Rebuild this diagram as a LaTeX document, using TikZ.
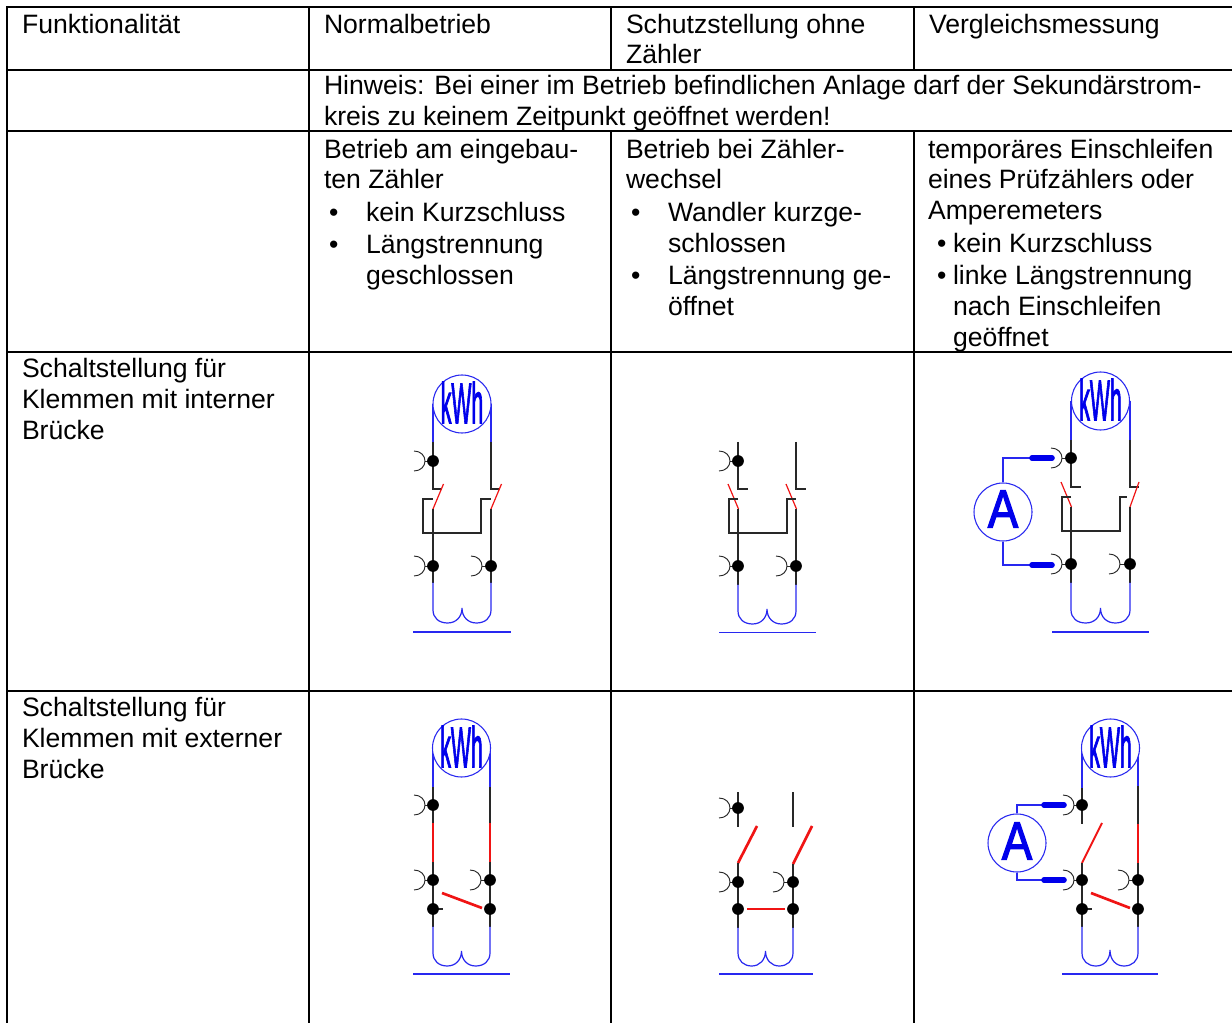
\documentclass[tikz,border=0pt]{standalone}
\usepackage{fontspec}
\setmainfont{Liberation Sans}
\newfontfamily\kwhfont[FakeBold=2.5]{Liberation Sans}
\definecolor{wblue}{RGB}{40,40,240}
\definecolor{tblue}{RGB}{0,0,235}
\definecolor{wred}{RGB}{240,20,20}
\definecolor{wblack}{RGB}{40,40,40}
\tikzset{
  x=0.75pt,y=-0.75pt,
  txt/.style={anchor=base west,inner sep=0pt,outer sep=0pt,yshift=-0.7pt,font=\fontsize{19.95}{24}\selectfont,text=black},
  grid/.style={line width=1.6pt,black},
  bw/.style={line width=0.9pt,wblue},
  kw/.style={line width=0.9pt,wblack},
  bwt/.style={line width=1.1pt,wblue},
  kwt/.style={line width=1.1pt,wblack},
  rw/.style={line width=0.9pt,wred},
  rwt/.style={line width=2pt,wred},
  dotmark/.style={circle,fill=black,draw=none,minimum size=8.8pt,inner sep=0pt},
  meterc/.style={circle,draw=wblue,line width=0.8pt,minimum size=43.5pt,inner sep=0pt,fill=white},
  lbl/.style={inner sep=0pt,text=tblue},
  plug/.style={line width=4.2pt,tblue,line cap=round}
}
% #1 x of hook tip (rightmost), #2 y, #3 x of the dot
\newcommand{\hookat}[3]{%
  \draw[kw,line width=0.7pt] (#1-11,#2-10) .. controls (#1-4,#2-10) and (#1,#2-5) .. (#1,#2)
     .. controls (#1,#2+5) and (#1-4,#2+10) .. (#1-11,#2+10);
  \draw[kw,line width=0.7pt] (#1,#2) -- (#3,#2);
  \node[dotmark] at (#3,#2) {};
}
% coil: #1 left x, #2 right x, #3 straight end y, #4 cusp y, #5 bottom y
\newcommand{\coilat}[5]{%
  \pgfmathsetmacro{\cm}{(#1+#2)/2}
  \draw[bw,line cap=round] (#1,#3) -- (#1,#5-13)
    .. controls (#1,#5-5) and (#1+6,#5) .. (#1/2+\cm/2,#5)
    .. controls (\cm-6,#5) and (\cm,#5-6) .. (\cm,#4)
    .. controls (\cm,#5-6) and (\cm+6,#5) .. (#2/2+\cm/2,#5)
    .. controls (#2-6,#5) and (#2,#5-5) .. (#2,#5-13) -- (#2,#3);
}
\newcommand{\kwh}[3]{% x y name
  \node[meterc] (#3) at (#1,#2) {};
  \node[lbl] (#3t) at (#1,#2-1.5) {\scalebox{0.37}[1]{\kwhfont\fontsize{43}{43}\selectfont kWh}};
}
\newcommand{\ampere}[4]{% x y name label-shift
  \node[meterc] (#3) at (#1,#2) {};
  \node[lbl] (#3t) at (#1,#2-#4) {\scalebox{0.85}[1]{\kwhfont\fontsize{40}{40}\selectfont A}};
}
\begin{document}
\begin{tikzpicture}
\useasboundingbox (0,0) rectangle (1232,1023);
\fill[white] (0,0) rectangle (1232,1023);
% grid
\draw[grid] (7,1023) -- (7,7) -- (1232,7);
\draw[grid] (7,70) -- (1232,70);
\draw[grid] (7,131) -- (1232,131);
\draw[grid] (7,352) -- (1232,352);
\draw[grid] (7,691) -- (1232,691);
\draw[grid] (309,7) -- (309,1023);
\draw[grid] (611,7) -- (611,70);
\draw[grid] (914,7) -- (914,70);
\draw[grid] (611,131) -- (611,1023);
\draw[grid] (914,131) -- (914,1023);
% texts
\node[txt] (t1) at (22,33) {Funktionalität};
\node[txt] (t2) at (324,33) {Normalbetrieb};
\node[txt] (t3) at (626,33) {Schutzstellung ohne};
\node[txt] (t3b) at (626,63) {Zähler};
\node[txt] (t4) at (929,33) {Vergleichsmessung};
\node[txt] (h1) at (324,94) {Hinweis: Bei einer im Betrieb befindlichen Anlage darf der Sekundärstrom-};
\node[txt] (h2) at (324,125) {kreis zu keinem Zeitpunkt geöffnet werden!};
\node[txt] (a1) at (324,158) {Betrieb am eingebau-};
\node[txt] (a2) at (324,188) {ten Zähler};
\node[txt] (a3) at (329,221) {•};
\node[txt] (a4) at (366,221) {kein Kurzschluss};
\node[txt] (a5) at (329,253) {•};
\node[txt] (a6) at (366,253) {Längstrennung};
\node[txt] (a7) at (366,284) {geschlossen};
\node[txt] (b1) at (626,158) {Betrieb bei Zähler-};
\node[txt] (b2) at (626,188) {wechsel};
\node[txt] (b3) at (631,221) {•};
\node[txt] (b4) at (668,221) {Wandler kurzge-};
\node[txt] (b5) at (668,252) {schlossen};
\node[txt] (b6) at (631,284) {•};
\node[txt] (b7) at (668,284) {Längstrennung ge-};
\node[txt] (b8) at (668,315) {öffnet};
\node[txt] (c1) at (928,158) {temporäres Einschleifen};
\node[txt] (c2) at (928,188) {eines Prüfzählers oder};
\node[txt] (c3) at (928,219) {Amperemeters};
\node[txt] (c4) at (937,252) {•};
\node[txt] (c5) at (953,252) {kein Kurzschluss};
\node[txt] (c6) at (937,284) {•};
\node[txt] (c7) at (953,284) {linke Längstrennung};
\node[txt] (c8) at (953,315) {nach Einschleifen};
\node[txt] (c9) at (953,346) {geöffnet};
\node[txt] (r1) at (22,377) {Schaltstellung für};
\node[txt] (r2) at (22,408) {Klemmen mit interner};
\node[txt] (r3) at (22,439) {Brücke};
\node[txt] (s1) at (22,716) {Schaltstellung für};
\node[txt] (s2) at (22,747) {Klemmen mit externer};
\node[txt] (s3) at (22,778) {Brücke};

% ---------- diagram row 1 col 2
\draw[bw] (433,442) -- (433,404) (491,442) -- (491,404);
\kwh{462}{404}{m1}
\draw[kw] (433,442) -- (433,489) -- (442,489);
\draw[kw] (491,442) -- (491,489) -- (500,489);
\draw[rw] (433,509) -- (443.5,484);
\draw[rw] (491,509) -- (501.5,484);
\draw[kw] (433,499) -- (423,499) -- (423,533) -- (481,533) -- (481,499) -- (491,499);
\draw[kw] (433,509) -- (433,583);
\draw[kw] (491,509) -- (491,583);
\hookat{425}{461}{433}
\hookat{425}{566}{433}
\hookat{482}{566}{491}
\coilat{433}{491}{583}{608}{623}
\draw[bw] (413,632) -- (511,632);

% ---------- diagram row 1 col 3
\draw[kw] (738,442) -- (738,489) -- (748,489);
\draw[kw] (796,442) -- (796,489) -- (806,489);
\draw[rw] (728,484) -- (738.5,509);
\draw[rw] (786,484) -- (796.5,509);
\draw[kw] (738,499) -- (729,499) -- (729,533) -- (787,533) -- (787,499) -- (796,499);
\draw[kw] (738,509) -- (738,585);
\draw[kw] (796,509) -- (796,585);
\hookat{730}{461}{738}
\hookat{730}{566}{738}
\hookat{787}{566}{796}
\coilat{738}{796}{585}{609}{624}
\draw[bwt] (719,632.5) -- (816,632.5);

% ---------- diagram row 1 col 4
\draw[bw] (1071,440) -- (1071,401) (1130,440) -- (1130,401);
\kwh{1100.5}{401}{m3}
\draw[kw] (1071,440) -- (1071,487) -- (1081,487);
\draw[kw] (1130,440) -- (1130,487) -- (1139,487);
\draw[rw] (1061,482) -- (1071.5,507);
\draw[rw] (1130,507) -- (1139,482);
\draw[kw] (1071,497) -- (1062,497) -- (1062,531) -- (1120,531) -- (1120,497) -- (1127,497);
\draw[kw] (1071,507) -- (1071,583);
\draw[kw] (1130,507) -- (1130,583);
\hookat{1062}{458}{1071}
\hookat{1062}{564}{1071}
\hookat{1120}{564}{1130}
\coilat{1071}{1130}{583}{608}{623}
\draw[bw] (1052,632) -- (1149,632);
\ampere{1003}{512}{a3m}{3}
\coordinate (p1) at (1032,458);
\coordinate (p1e) at (1052,458);
\coordinate (p2) at (1032,565);
\coordinate (p2e) at (1052,565);
\draw[bw] (a3m.north) |- (p1);
\draw[bw] (a3m.south) |- (p2);
\draw[plug] (p1) -- (p1e);
\draw[plug] (p2) -- (p2e);

% ---------- diagram row 2 col 2
\draw[bwt] (433,787) -- (433,748) (490,787) -- (490,748);
\kwh{461.5}{748}{m4}
\draw[kwt] (433,787) -- (433,823);
\draw[kwt] (490,787) -- (490,823);
\draw[rwt] (433,823) -- (433,862);
\draw[rwt] (490,823) -- (490,862);
\draw[kwt] (433,862) -- (433,927) (490,862) -- (490,927);
\draw[kw] (433,909) -- (443,909);
\hookat{425}{805}{433}
\hookat{425}{880}{433}
\hookat{481}{880}{490}
\node[dotmark] at (433,909) {};
\node[dotmark] at (490,909) {};
\draw[rwt] (442,893) -- (482,908);
\coilat{433}{490}{927}{951}{966}
\draw[bwt] (413,974) -- (510,974);

% ---------- diagram row 2 col 3
\draw[kwt] (738,792) -- (738,827);
\draw[kw] (793,792) -- (793,827);
\draw[rwt] (738,863) -- (757,826);
\draw[rwt] (793,864) -- (812,826);
\draw[kwt] (738,863) -- (738,928) (793,864) -- (793,928);
\hookat{730}{808}{738}
\hookat{730}{882}{738}
\hookat{784}{882}{793}
\node[dotmark] at (738,909) {};
\node[dotmark] at (793,909) {};
\draw[rwt] (747,909) -- (785,909);
\coilat{738}{793}{928}{951}{966}
\draw[bwt] (719,974) -- (813,974);

% ---------- diagram row 2 col 4
\draw[bw] (1082,788) -- (1082,748) (1138,786) -- (1138,748);
\kwh{1110.5}{748}{m6}
\draw[kw] (1082,788) -- (1082,824);
\draw[kw] (1138,786) -- (1138,824);
\draw[rwt] (1138,824) -- (1138,863);
\draw[rw,line width=1.4pt] (1082,863) -- (1102,823);
\draw[kw] (1082,863) -- (1082,927) (1138,863) -- (1138,927);
\draw[kw] (1082,909) -- (1092,909);
\hookat{1074}{805}{1082}
\hookat{1074}{880}{1082}
\hookat{1129}{880}{1138}
\node[dotmark] at (1082,909) {};
\node[dotmark] at (1138,909) {};
\draw[rwt] (1091,893) -- (1130,908);
\coilat{1082}{1138}{927}{950}{966}
\draw[bwt] (1062,974) -- (1158,974);
\ampere{1017}{843}{a6m}{2}
\coordinate (q1) at (1044,805);
\coordinate (q1e) at (1064,805);
\coordinate (q2) at (1044,880);
\coordinate (q2e) at (1064,880);
\draw[bw] (a6m.north) |- (q1);
\draw[bw] (a6m.south) |- (q2);
\draw[plug] (q1) -- (q1e);
\draw[plug] (q2) -- (q2e);
\end{tikzpicture}
\end{document}
